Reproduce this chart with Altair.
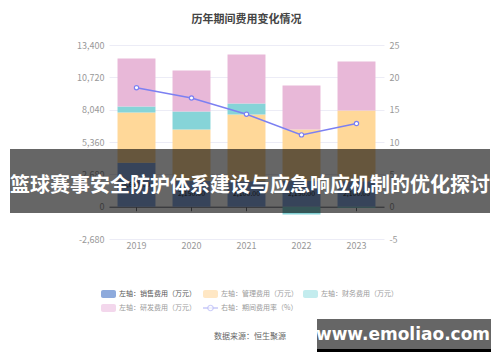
import altair as alt
import pandas as pd

years = ["2019", "2020", "2021", "2022", "2023"]
sales = [3650, 2150, 2100, 2150, 2100]
mgmt = [4150, 4240, 5536, 4240, 5868]
fin = [500, 1495, 914, -650, -100]
rnd = [3984, 3405, 4066, 3653, 4067]
rate = [18.4, 16.8, 14.3, 11.1, 12.85]

series = ["左轴：销售费用（万元）", "左轴：管理费用（万元）", "左轴：财务费用（万元）", "左轴：研发费用（万元）"]
line_name = "右轴：期间费用率（%）"
bar_colors = ["#8AABE0", "#FFD899", "#86D4D8", "#E8B8D8"]
legend_colors = ["#8EAADC", "#FFE7C4", "#C3ECEE", "#F3D7EC"]
line_color = "#7C80F2"
left_ticks = [-2680, 0, 2680, 5360, 8040, 10720, 13400]
right_ticks = [-5, 0, 5, 10, 15, 20, 25]
title_text = "历年期间费用变化情况"
source_text = "数据来源：恒生聚源"
banner_text = "篮球赛事安全防护体系建设与应急响应机制的优化探讨"
watermark_text = "www.emoliao.com"

rows = []
for i, y in enumerate(years):
    for k, (s, vals) in enumerate(zip(series, [sales, mgmt, fin, rnd])):
        rows.append({"year": y, "series": s, "value": vals[i], "ord": k})
df = pd.DataFrame(rows)
df_sales = pd.DataFrame({"year": years, "sales": sales, "mid": [v / 2 for v in sales]})
df_rate = pd.DataFrame({"year": years, "rate": rate})
one = pd.DataFrame({"a": [0]})

FONT = "Noto Sans CJK SC"
W, H = 275, 194
MINUS_EXPR = "datum.value < 0 ? '-' + format(-datum.value, ',') : format(datum.value, ',')"

xscale = alt.Scale(domain=years, paddingInner=0.31, paddingOuter=0.155)
yscale = alt.Scale(domain=[-2680, 13400], nice=False, zero=False)

xaxis = alt.Axis(title=None, offset=-32.3, domainColor="#6E7079", tickColor="#6E7079",
                 tickSize=4, labelPadding=31, labelColor="#999999", labelFontSize=9,
                 labelFont=FONT, labelAngle=0, grid=False)
yaxis = alt.Axis(values=left_ticks, labelExpr=MINUS_EXPR, title=None, gridColor="#ECECF6",
                 domain=False, ticks=False, labelColor="#999999", labelFontSize=9,
                 labelFont=FONT, labelPadding=5)

bars = alt.Chart(df).mark_bar().encode(
    x=alt.X("year:N", scale=xscale, axis=xaxis, title=None),
    y=alt.Y("value:Q", stack="zero", scale=yscale, axis=yaxis, title=None),
    color=alt.Color("series:N", scale=alt.Scale(domain=series, range=bar_colors), legend=None),
    order=alt.Order("ord:Q"),
)

labels = alt.Chart(df_sales).mark_text(fontSize=7, color="#333333", font=FONT).encode(
    x=alt.X("year:N", scale=xscale, axis=xaxis, title=None),
    y=alt.Y("mid:Q", scale=yscale, axis=yaxis, title=None),
    text=alt.Text("sales:Q", format=",.2f"),
)

left = alt.layer(bars, labels)

line = alt.Chart(df_rate).mark_line(color=line_color, strokeWidth=1.5, point=alt.OverlayMarkDef(
    filled=True, fill="white", stroke=line_color, strokeWidth=1.2, size=18)).encode(
    x=alt.X("year:N", scale=xscale, axis=xaxis, title=None),
    y=alt.Y("rate:Q", scale=alt.Scale(domain=[-5, 25], nice=False, zero=False), title=None,
            axis=alt.Axis(orient="right", values=right_ticks, labelExpr=MINUS_EXPR, title=None,
                          grid=False, domain=False, ticks=False, labelColor="#999999",
                          labelFontSize=9, labelFont=FONT, labelPadding=5)),
)

OX, OY = 109, 45  # plot origin on page


def txt(t, px, py, size, color, weight="normal", align="left", font=FONT):
    return alt.Chart(one).mark_text(fontSize=size, color=color, fontWeight=weight, align=align,
                                    baseline="middle", font=font).encode(
        x=alt.value(px - OX), y=alt.value(py - OY), text=alt.value(t))


def box(x1, y1, x2, y2, color, opacity=1.0, radius=0):
    return alt.Chart(one).mark_rect(color=color, opacity=opacity, cornerRadius=radius).encode(
        x=alt.value(x1 - OX), x2=alt.value(x2 - OX), y=alt.value(y1 - OY), y2=alt.value(y2 - OY))


deco = []
leg_pos = [(101, 294), (203, 294), (303, 294), (101, 308)]
for k, (lx, ly) in enumerate(leg_pos):
    deco.append(box(lx, ly - 4, lx + 15, ly + 4, legend_colors[k], radius=2))
    deco.append(txt(series[k], lx + 18, ly, 7, "#555555" if k == 0 else "#9A9A9A"))
deco.append(alt.Chart(one).mark_rule(color="#B9BBF7", strokeWidth=1.2).encode(
    x=alt.value(203 - OX), x2=alt.value(218 - OX), y=alt.value(308 - OY)))
deco.append(alt.Chart(one).mark_point(filled=True, fill="white", stroke="#B9BBF7", strokeWidth=1.2,
                                      size=30).encode(x=alt.value(210.5 - OX), y=alt.value(308 - OY)))
deco.append(txt(line_name, 221, 308, 7, "#9A9A9A"))
deco.append(txt(source_text, 250, 337, 8, "#666666", align="center"))
deco.append(box(10, 149, 490, 213, "#000000", opacity=0.6))
deco.append(txt(banner_text, 250, 186, 20, "#FFFFFF", weight="bold", align="center"))
deco.append(box(317, 319, 491, 349, "#666666"))
deco.append(box(317, 349, 491, 352, "#000000"))
deco.append(txt(watermark_text, 403, 335, 17, "#FFFFFF", weight="bold", align="center",
                font="DejaVu Sans"))

chart = alt.layer(left, line, *deco).resolve_scale(y="independent").properties(
    width=W, height=H,
    autosize=alt.AutoSizeParams(type="none"),
    padding={"left": OX - 8, "top": OY - 8, "right": 484 - (OX - 8) - W, "bottom": 346 - (OY - 8) - H},
    title=alt.TitleParams(title_text, fontSize=11, fontWeight="bold", color="#444444", font=FONT,
                          anchor="middle", offset=16),
    background="white",
).configure_view(stroke=None)

chart.save("out.html", embed_options={"renderer": "svg", "actions": False})
